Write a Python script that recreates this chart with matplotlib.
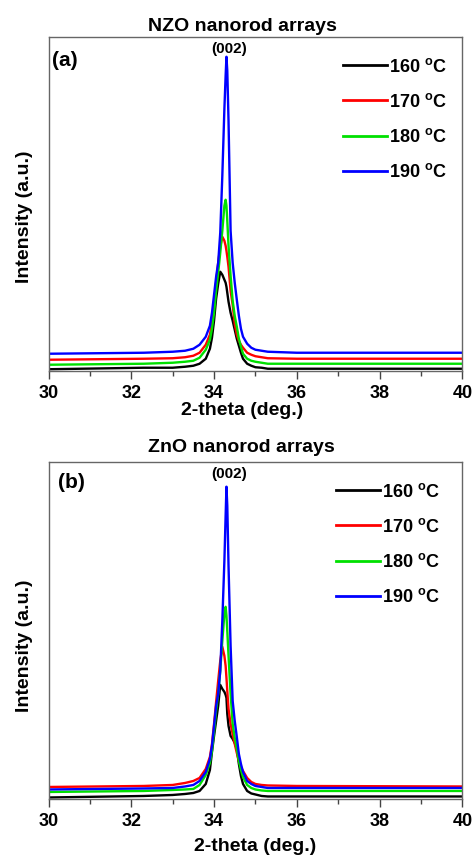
import numpy as np
import matplotlib
matplotlib.use("Agg")
import matplotlib.pyplot as plt
from matplotlib.ticker import MultipleLocator, NullLocator

plt.rcParams["font.family"] = ["Liberation Sans", "DejaVu Sans"]
plt.rcParams["font.weight"] = "bold"
plt.rcParams["mathtext.fontset"] = "custom"
plt.rcParams["mathtext.bf"] = "Liberation Sans:bold"
plt.rcParams["mathtext.rm"] = "Liberation Sans:bold"

# ---------------- data (arbitrary units) ----------------
two_theta = [30.0, 32.3, 33.0, 33.3, 33.5, 33.65, 33.8, 33.9, 33.95, 34.0, 34.05,
             34.1, 34.15, 34.2, 34.25, 34.28, 34.3, 34.32, 34.35, 34.4, 34.45,
             34.5, 34.55, 34.6, 34.65, 34.7, 34.8, 34.9, 35.0, 35.15, 35.3,
             36.0, 40.0]

temps = ["160", "170", "180", "190"]
colors = ["black", "#ff0000", "#00e000", "#0000ff"]

# (a) NZO
nzo_160 = [1.5, 3, 3, 4, 5, 7, 12, 22, 33, 50, 72, 87, 99, 96, 91, 88, 84, 78,
           69, 58, 50, 41, 32, 25, 18, 12, 7, 5, 3.5, 3, 2, 2, 2]
nzo_170 = [11, 12, 12.5, 13.5, 15, 18, 26, 36, 48, 64, 88, 108, 124, 134, 130,
           125, 120, 114, 104, 80, 66, 47, 36, 30, 26, 23, 18, 16, 14.5, 13.5,
           12.5, 12, 12]
nzo_180 = [6, 7, 8, 9, 10, 13, 21, 31, 42, 58, 80, 98, 118, 140, 165, 171, 165,
           150, 125, 95, 70, 55, 44, 32, 24, 17, 12, 10, 9, 8, 7, 7, 7]
nzo_190 = [17, 18, 19, 20, 22, 26, 34, 45, 58, 76, 94, 108, 138, 195, 262, 295,
           314, 300, 250, 140, 108, 88, 71, 55, 42, 34, 27, 23, 21, 20, 19, 18, 18]

# (b) ZnO
zno_160 = [1.5, 3, 4, 5, 6, 8, 15, 29, 47, 63, 78, 93, 114, 110, 107, 104, 101,
           85, 73, 63, 60, 56, 50, 35, 23, 15, 8, 5.5, 4.5, 3, 2.5, 2.5, 2.5]
zno_170 = [12, 13, 14, 16, 18, 21, 30, 42, 55, 75, 97, 118, 138, 152, 143, 133,
           121, 108, 90, 75, 65, 55, 46, 38, 32, 28, 21, 17, 15, 14, 13.5, 13, 12.5]
zno_180 = [7, 8, 9, 9.5, 10, 14, 24, 36, 48, 67, 88, 105, 128, 158, 185, 192, 183,
           168, 143, 105, 75, 61, 50, 38, 29, 22, 14, 11, 9.5, 8.5, 8, 8, 8]
zno_190 = [9.5, 10.5, 11, 12.5, 14, 18, 27, 40, 53, 73, 93, 105, 128, 178, 238,
           283, 312, 293, 233, 153, 98, 78, 62, 45, 35, 27, 18, 15, 13, 12, 11,
           11, 11]

panels = [
    ("NZO nanorod arrays", "(a)", [nzo_160, nzo_170, nzo_180, nzo_190], 334),
    ("ZnO nanorod arrays", "(b)", [zno_160, zno_170, zno_180, zno_190], 337),
]

# per-panel placement tweaks (axes fractions)
title_pos = [(0.468, 1.016), (0.466, 1.030)]
xlabel_pos = [(0.468, -0.093), (0.50, -0.116)]
ylabel_pos = [(-0.037, 0.46), (-0.037, 0.454)]
tag_pos = [(0.008, 0.93), (0.023, 0.937)]
legend_x = [0.99, 0.973]

# ---------------- figure ----------------
fig = plt.figure(figsize=(4.72, 8.57), dpi=100)
axes_rects = [
    [0.1028, 0.5674, 0.8767, 0.3897],
    [0.1028, 0.0677, 0.8767, 0.3936],
]

for i, (rect, (title, tag, series, ytop)) in enumerate(zip(axes_rects, panels)):
    ax = fig.add_axes(rect)
    for t, c, y in zip(temps, colors, series):
        ax.plot(two_theta, y, color=c, lw=1.7,
                label=t + r" $^{\mathbf{o}}$C")

    ax.set_xlim(30, 40)
    ax.set_ylim(0, ytop)
    ax.xaxis.set_major_locator(MultipleLocator(2))
    ax.xaxis.set_minor_locator(MultipleLocator(1))
    ax.yaxis.set_major_locator(NullLocator())
    ax.tick_params(axis="x", which="major", direction="out", length=6,
                   width=1, labelsize=13, pad=4, color="#444444")
    ax.tick_params(axis="x", which="minor", direction="out", length=3.5,
                   width=1, color="#444444")
    for sp in ax.spines.values():
        sp.set_color("#666666")
        sp.set_linewidth(1.0)

    ax.set_xlabel("2-theta (deg.)", fontsize=14, fontweight="bold")
    ax.xaxis.set_label_coords(*xlabel_pos[i])
    ax.set_ylabel("Intensity (a.u.)", fontsize=14, fontweight="bold")
    ax.yaxis.set_label_coords(*ylabel_pos[i])
    ax.text(title_pos[i][0], title_pos[i][1], title, transform=ax.transAxes,
            fontsize=14, fontweight="bold", ha="center", va="baseline")

    ax.text(tag_pos[i][0], tag_pos[i][1], tag, transform=ax.transAxes,
            fontsize=15, fontweight="bold", ha="left", va="center")
    ax.text(34.36, 0.962 * ytop, "(002)", fontsize=11, fontweight="bold",
            ha="center", va="center")

    leg = ax.legend(loc="upper right", bbox_to_anchor=(legend_x[i], 0.97),
                    frameon=False, fontsize=13, handlelength=2.4,
                    handletextpad=0.15, labelspacing=0.95, borderaxespad=0.2)
    for line in leg.get_lines():
        line.set_linewidth(2.0)

fig.savefig("out.png", dpi=100)
